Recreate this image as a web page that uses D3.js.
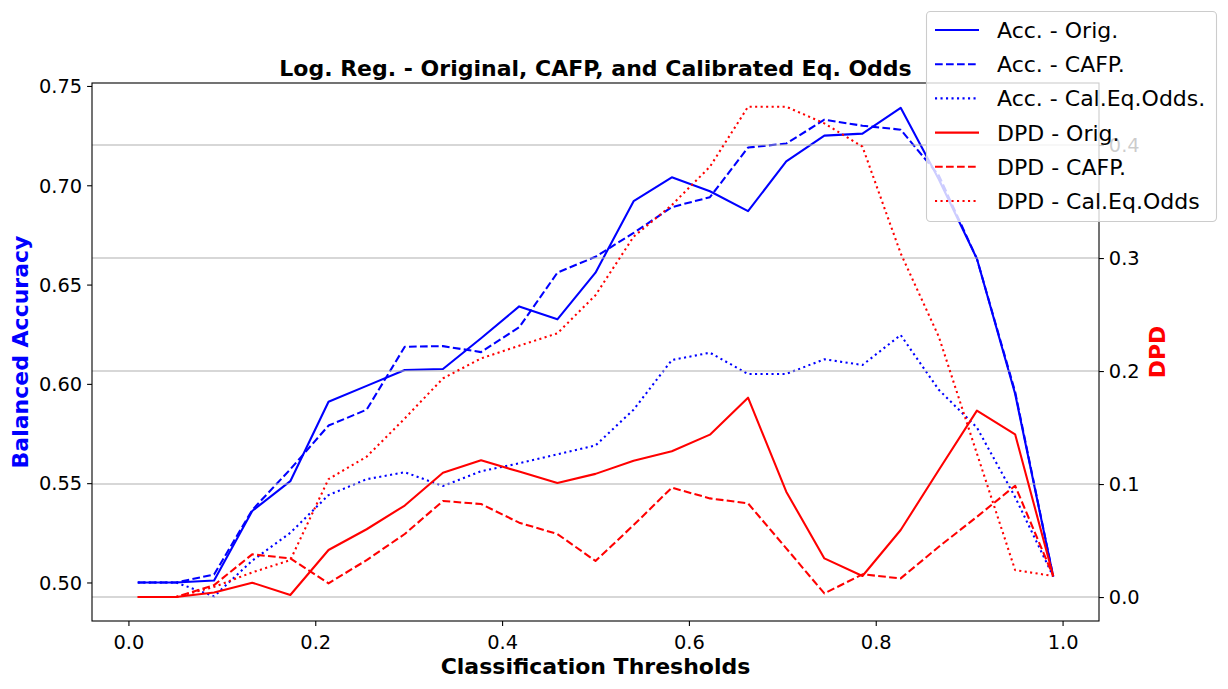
<!DOCTYPE html>
<html><head><meta charset="utf-8">
<script src="https://cdn.jsdelivr.net/npm/d3@7"></script>
<style>body{margin:0;background:#fff;} text{font-family:"DejaVu Sans",sans-serif;}</style>
</head><body><svg id="chart" width="1228" height="689"></svg>
<script>
const thresholds = [0.01,0.0508,0.0917,0.1325,0.1733,0.2142,0.255,0.2958,0.3367,0.3775,0.4183,0.4592,0.5,0.5408,0.5817,0.6225,0.6633,0.7042,0.745,0.7858,0.8267,0.8675,0.9083,0.9492,0.99];
const accOrig = [0.500,0.500,0.501,0.536,0.551,0.591,0.599,0.607,0.6075,0.623,0.639,0.6325,0.656,0.692,0.704,0.697,0.687,0.712,0.725,0.726,0.739,0.703,0.663,0.595,0.503];
const accCafp = [0.500,0.500,0.504,0.5365,0.557,0.579,0.587,0.6187,0.619,0.616,0.6285,0.656,0.664,0.676,0.689,0.694,0.719,0.721,0.733,0.730,0.728,0.705,0.663,0.596,0.503];
const accCal = [0.500,0.500,0.493,0.511,0.525,0.544,0.552,0.5555,0.5486,0.556,0.560,0.5645,0.569,0.587,0.612,0.6157,0.605,0.605,0.6124,0.6095,0.6246,0.597,0.578,0.543,0.503];
const dpdOrig = [0,0,0.004,0.0127,0.0018,0.0416,0.060,0.081,0.110,0.121,0.111,0.101,0.109,0.1206,0.129,0.1437,0.1764,0.0932,0.0342,0.0186,0.0593,0.1124,0.165,0.144,0.0186];
const dpdCafp = [0,0,0.0106,0.0378,0.0342,0.0121,0.0327,0.0558,0.085,0.0823,0.0658,0.0558,0.0319,0.0637,0.0968,0.0873,0.0829,0.0431,0.0032,0.0201,0.0165,0.0445,0.071,0.0985,0.0186];
const dpdCal = [0,0,0.009,0.0218,0.0327,0.1044,0.1242,0.158,0.1935,0.2112,0.2224,0.2334,0.2671,0.3189,0.3469,0.3808,0.4339,0.4339,0.4192,0.3985,0.3041,0.2304,0.127,0.0239,0.0186];
const xTicks = [0.0,0.2,0.4,0.6,0.8,1.0];
const yLeftTicks = [0.50,0.55,0.60,0.65,0.70,0.75];
const yRightTicks = [0.0,0.1,0.2,0.3,0.4];
const legendLabels = ["Acc. - Orig.","Acc. - CAFP.","Acc. - Cal.Eq.Odds.","DPD - Orig.","DPD - CAFP.","DPD - Cal.Eq.Odds"];

const L=92,R=1099,T=83,B=621;
const svg = d3.select("#chart");
const x = d3.scaleLinear().domain([-0.039,1.039]).range([L,R]);
const yL = d3.scaleLinear().domain([0.4806,0.7515]).range([B,T]);
const yR = d3.scaleLinear().domain([-0.0212,0.4549]).range([B,T]);

const styles = {solid:null, dashed:"7.7,3.3", dotted:"2.1,3.4"};
const series = [
  {vals:accOrig, scale:yL, color:"blue", dash:styles.solid},
  {vals:accCafp, scale:yL, color:"blue", dash:styles.dashed},
  {vals:accCal, scale:yL, color:"blue", dash:styles.dotted},
  {vals:dpdOrig, scale:yR, color:"red", dash:styles.solid},
  {vals:dpdCafp, scale:yR, color:"red", dash:styles.dashed},
  {vals:dpdCal, scale:yR, color:"red", dash:styles.dotted}
];

function drawLine(s){
  const line = d3.line().x((d,i)=>x(thresholds[i])).y(d=>s.scale(d));
  svg.append("path").datum(s.vals).attr("d",line).attr("fill","none")
    .attr("stroke",s.color).attr("stroke-width",2.08)
    .attr("stroke-dasharray",s.dash).attr("stroke-linejoin","round");
}
// blue lines (first axes)
series.slice(0,3).forEach(drawLine);
// grid from right axis
svg.append("g").selectAll("line").data(yRightTicks).join("line")
  .attr("x1",L).attr("x2",R).attr("y1",d=>yR(d)).attr("y2",d=>yR(d))
  .attr("stroke","#b0b0b0").attr("stroke-width",1.1);
series.slice(3).forEach(drawLine);

// axes
function styleAxis(g){
  g.select(".domain").remove();
  g.selectAll(".tick line").attr("stroke","#000").attr("stroke-width",1.1);
  g.selectAll(".tick text").attr("fill","#000").style("font-size","19.4px").style("font-family","DejaVu Sans");
}
svg.append("g").attr("transform",`translate(0,${B})`)
  .call(d3.axisBottom(x).tickValues(xTicks).tickFormat(d3.format(".1f")).tickSize(4.9).tickPadding(4.9))
  .call(styleAxis).selectAll(".tick text").attr("dy","0.95em");
svg.append("g").attr("transform",`translate(${L},0)`)
  .call(d3.axisLeft(yL).tickValues(yLeftTicks).tickFormat(d3.format(".2f")).tickSize(4.9).tickPadding(4.9))
  .call(styleAxis).selectAll(".tick text").attr("dy","0.35em");
svg.append("g").attr("transform",`translate(${R},0)`)
  .call(d3.axisRight(yR).tickValues(yRightTicks).tickFormat(d3.format(".1f")).tickSize(4.9).tickPadding(4.9))
  .call(styleAxis).selectAll(".tick text").attr("dy","0.35em");

// frame
svg.append("rect").attr("x",L).attr("y",T).attr("width",R-L).attr("height",B-T)
  .attr("fill","none").attr("stroke","#000").attr("stroke-width",1.1);

// titles
svg.append("text").attr("x",(L+R)/2).attr("y",76).attr("text-anchor","middle")
  .style("font-size","22px").style("font-weight","bold").text("Log. Reg. - Original, CAFP, and Calibrated Eq. Odds");
svg.append("text").attr("x",(L+R)/2).attr("y",674).attr("text-anchor","middle")
  .style("font-size","22px").style("font-weight","bold").text("Classification Thresholds");
svg.append("text").attr("transform",`translate(28,${(T+B)/2}) rotate(-90)`).attr("text-anchor","middle")
  .attr("fill","blue").style("font-size","22px").style("font-weight","bold").text("Balanced Accuracy");
svg.append("text").attr("transform",`translate(1165,${(T+B)/2}) rotate(-90)`).attr("text-anchor","middle")
  .attr("fill","red").style("font-size","22px").style("font-weight","bold").text("DPD");

// legend
const lg = svg.append("g");
lg.append("rect").attr("x",926.5).attr("y",11.5).attr("width",290).attr("height",210).attr("rx",4)
  .attr("fill","rgba(255,255,255,0.8)").attr("stroke","#cccccc").attr("stroke-width",1.1);
const rowY = d3.scaleLinear().domain([0,5]).range([30,201]);
legendLabels.forEach((lab,i)=>{
  const s = series[i], yy = rowY(i);
  lg.append("line").attr("x1",935).attr("x2",979).attr("y1",yy).attr("y2",yy)
    .attr("stroke",s.color).attr("stroke-width",2.08).attr("stroke-dasharray",s.dash);
  lg.append("text").attr("x",997).attr("y",yy).attr("dy","0.36em")
    .style("font-size","22px").attr("fill","#000").text(lab);
});
</script></body></html>
